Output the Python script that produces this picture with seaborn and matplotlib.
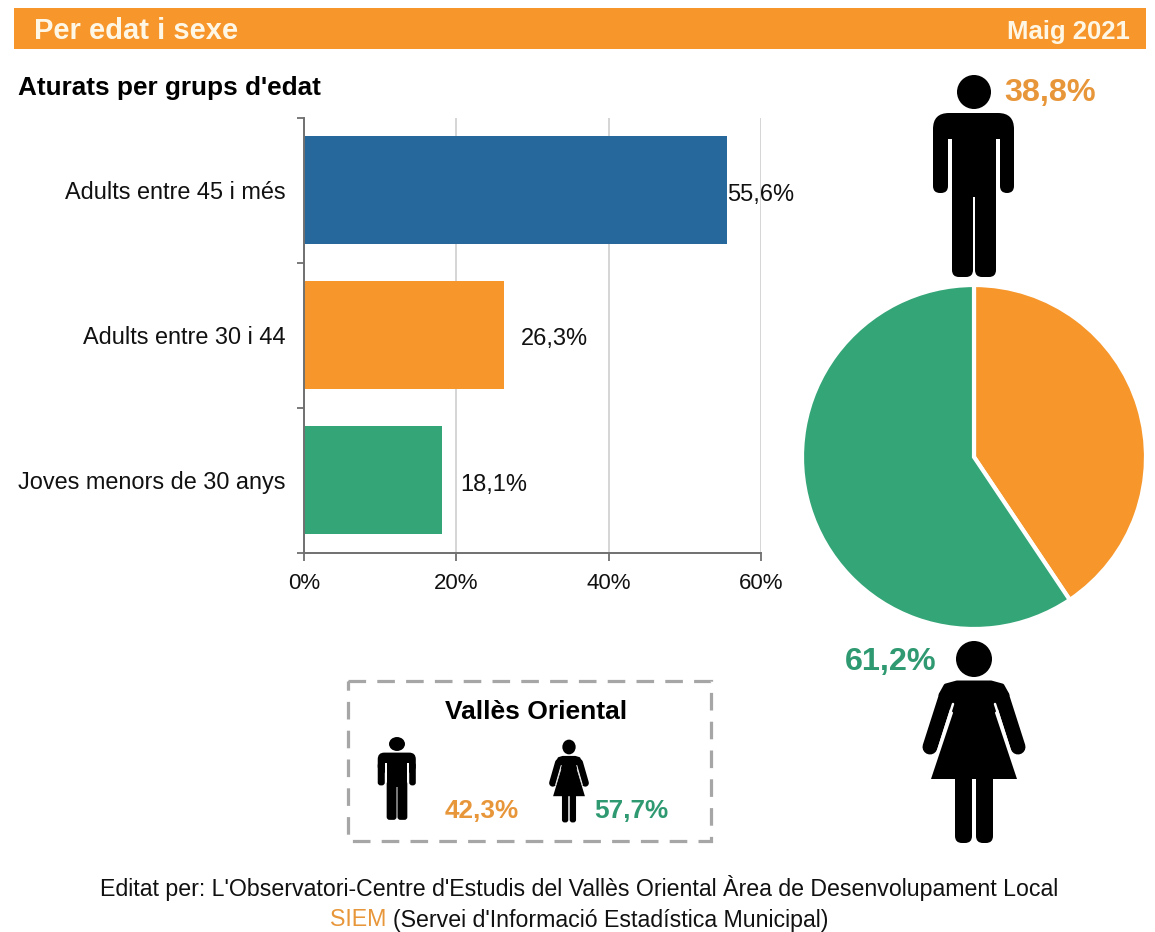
import numpy as np
import pandas as pd
import matplotlib
matplotlib.use("Agg")
import matplotlib.pyplot as plt
from matplotlib.patches import Ellipse, FancyBboxPatch, Polygon, Rectangle
import seaborn as sns

W, H = 1155, 932

groups = ["Adults entre 45 i més", "Adults entre 30 i 44", "Joves menors de 30 anys"]
group_pct = [55.6, 26.3, 18.1]
group_colors = ["#26689B", "#F6962B", "#33A577"]
xticks = [0, 20, 40, 60]

sex_pct = [38.8, 61.2]
# the wedges as drawn in the picture differ a bit from their printed labels
sex_wedges = [40.6, 59.4]
sex_colors = ["#F6962B", "#33A577"]

valles_pct = [42.3, 57.7]

ORANGE_TXT = "#E8963A"
GREEN_TXT = "#2F9A72"

sns.set_theme(style="white")
plt.rcParams["font.family"] = ["Liberation Sans", "DejaVu Sans"]


def comma(v):
    return f"{v:.1f}".replace(".", ",") + "%"


def px(v):
    # pixels to points at dpi 100
    return v * 0.72


def draw_man(ax, cx, cy, sx=1.0, sy=1.0):
    X = lambda v: cx + v * sx
    Y = lambda v: cy + v * sy
    rr = 7 * min(sx, sy)

    def box(x0, y0, x1, y1, r, color="black"):
        ax.add_patch(FancyBboxPatch((X(x0) + r, Y(y0) + r), X(x1) - X(x0) - 2 * r, Y(y1) - Y(y0) - 2 * r,
                                    boxstyle=f"round,pad={r}", fc=color, ec="none"))

    ax.add_patch(Ellipse((cx, cy), 34 * sx, 34 * sy, fc="black", ec="none"))
    box(-41, 45, -26, 101, rr)
    box(26, 45, 40, 101, rr)
    box(-41, 21, 40, 70, 16 * min(sx, sy))
    ax.add_patch(Rectangle((X(-26), Y(47)), 4 * sx, 60 * sy, fc="white", ec="none"))
    ax.add_patch(Rectangle((X(22), Y(47)), 4 * sx, 60 * sy, fc="white", ec="none"))
    ax.add_patch(Rectangle((X(-22), Y(30)), 44 * sx, 75 * sy, fc="black", ec="none"))
    box(-22, 90, -1, 185, rr)
    box(1, 90, 22, 185, rr)


def draw_woman(ax, cx, cy, sx=1.0, sy=1.0):
    P = lambda x, y: (cx + x * sx, cy + y * sy)
    ax.add_patch(Ellipse((cx, cy), 36 * sx, 36 * sy, fc="black", ec="none"))
    arm_w = px(15 * min(sx * 1.3, 1.0))
    for sgn in (-1, 1):
        a, b = P(sgn * 28, 38), P(sgn * 44, 88)
        ax.plot([a[0], b[0]], [a[1], b[1]], color="black", lw=arm_w, solid_capstyle="round")
    ax.add_patch(Polygon([P(-33, 36), P(-28, 27), P(-17, 24), P(17, 24), P(28, 27), P(33, 36), P(19, 52), P(-19, 52)],
                         fc="black", ec="black", lw=px(5 * sx), joinstyle="round"))
    for sgn in (-1, 1):
        a, b = P(sgn * 21, 45), P(sgn * 36, 92)
        ax.plot([a[0], b[0]], [a[1], b[1]], color="white", lw=px(2.5 * sx))
    ax.add_patch(Polygon([P(-18, 45), P(18, 45), P(43, 120), P(-43, 120)], fc="black", ec="none"))
    for x0, x1 in ((-19, -2), (2, 19)):
        r = 7 * min(sx, sy)
        p0, p1 = P(x0, 110), P(x1, 184)
        ax.add_patch(FancyBboxPatch((p0[0] + r, p0[1] + r), p1[0] - p0[0] - 2 * r, p1[1] - p0[1] - 2 * r,
                                    boxstyle=f"round,pad={r}", fc="black", ec="none"))


def axes_px(fig, x0, y0, x1, y1):
    return fig.add_axes([x0 / W, 1 - y1 / H, (x1 - x0) / W, (y1 - y0) / H])


def main():
    fig = plt.figure(figsize=(W / 100, H / 100), dpi=100, facecolor="white")

    # overlay in pixel coordinates for the decoration
    bg = fig.add_axes([0, 0, 1, 1])
    bg.set_xlim(0, W)
    bg.set_ylim(H, 0)
    bg.axis("off")

    bg.add_patch(Rectangle((14, 8), 1132, 41, fc="#F6962B", ec="none"))
    bg.text(34, 31, "Per edat i sexe", color="#FFF7E6", fontsize=21, fontweight="bold", va="center")
    bg.text(1130, 32, "Maig 2021", color="#FFF7E6", fontsize=18.5, fontweight="bold", va="center", ha="right")
    bg.text(18, 88, "Aturats per grups d'edat", color="black", fontsize=18.8, fontweight="bold", va="center")

    #######################
    ## bars
    #######################
    df = pd.DataFrame({"group": groups, "pct": group_pct})
    ax = axes_px(fig, 304, 117.5, 761, 552.5)
    ax.patch.set_alpha(0)
    sns.barplot(df, y="group", x="pct", hue="group", palette=group_colors, width=0.745,
                saturation=1, legend=False, linewidth=0, ax=ax, zorder=3)
    ax.set_xlim(0, 60)
    ax.set_ylim(2.5, -0.5)
    ax.set_xlabel("")
    ax.set_ylabel("")
    ax.set_xticks(xticks)
    ax.set_xticklabels([f"{t}%" for t in xticks])
    ax.set_yticks(np.arange(-0.5, 3, 1), minor=True)
    ax.grid(axis="x", color="#D2D2D2", lw=1.3, zorder=0)
    ax.set_axisbelow(True)
    sns.despine(ax=ax, top=True, right=True)
    for side in ("left", "bottom"):
        ax.spines[side].set_color("#707070")
        ax.spines[side].set_linewidth(1.4)
        ax.spines[side].set_zorder(6)
    ax.tick_params(axis="x", which="major", bottom=True, length=6, width=1.3, color="#707070",
                   labelsize=16, pad=9, labelcolor="#111111")
    ax.tick_params(axis="y", which="major", left=False, labelsize=16.9, pad=7.5, labelcolor="#111111")
    ax.tick_params(axis="y", which="minor", left=True, length=5, width=1.3, color="#707070")

    gaps = [0, 17, 18]
    for i, (v, g) in enumerate(zip(group_pct, gaps)):
        ax.annotate(comma(v), (v, i), xytext=(px(g), -px(4.5)), textcoords="offset points",
                    va="center", ha="left", fontsize=17, color="#111111", zorder=5)

    #######################
    ## pie
    #######################
    pie_ax = axes_px(fig, 802, 285, 1146, 629)
    pie_ax.pie(sex_wedges, colors=sex_colors, startangle=90, counterclock=False, radius=1.0,
               wedgeprops=dict(edgecolor="white", linewidth=3))
    pie_ax.set_xlim(-1, 1)
    pie_ax.set_ylim(-1, 1)

    draw_man(bg, 974, 92)
    draw_woman(bg, 974, 659)
    bg.text(1004, 93, comma(sex_pct[0]), color=ORANGE_TXT, fontsize=23.3, fontweight="bold", va="center")
    bg.text(845, 662, comma(sex_pct[1]), color=GREEN_TXT, fontsize=23.3, fontweight="bold", va="center")

    #######################
    ## Valles Oriental box
    #######################
    bg.add_patch(Rectangle((348, 681), 363, 160, fc="none", ec="#A6A6A6", lw=px(3.2),
                           linestyle=(0, (5.5, 3.5))))
    bg.text(536, 712, "Vallès Oriental", color="black", fontsize=19, fontweight="bold", va="center", ha="center")
    draw_man(bg, 397, 744, 0.47, 0.41)
    draw_woman(bg, 569, 747, 0.37, 0.41)
    bg.text(482, 811, comma(valles_pct[0]), color=ORANGE_TXT, fontsize=18.8, fontweight="bold", va="center", ha="center")
    bg.text(631, 811, comma(valles_pct[1]), color=GREEN_TXT, fontsize=18.8, fontweight="bold", va="center", ha="center")

    #######################
    ## footer
    #######################
    bg.text(579, 888, "Editat per: L'Observatori-Centre d'Estudis del Vallès Oriental Àrea de Desenvolupament Local",
            color="#111111", fontsize=16.7, va="center", ha="center")
    bg.text(330, 920, "SIEM", color=ORANGE_TXT, fontsize=16.7, va="center")
    bg.text(393, 920, "(Servei d'Informació Estadística Municipal)", color="#111111", fontsize=16.7, va="center")

    fig.savefig("out.png", dpi=100)


if __name__ == "__main__":
    main()
